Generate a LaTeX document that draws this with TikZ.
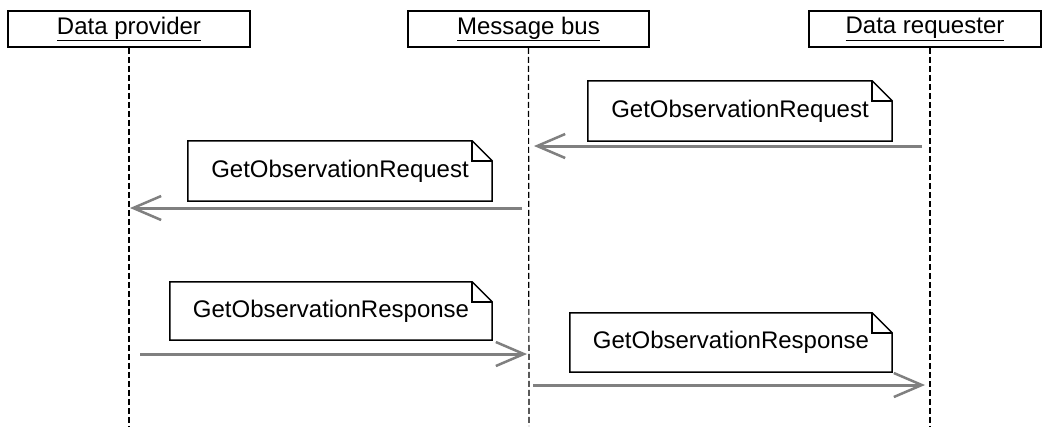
\documentclass[tikz,border=0pt]{standalone}
\usepackage{fontspec}
\setmainfont{Liberation Sans}
\usetikzlibrary{arrows.meta}
\begin{document}
\begin{tikzpicture}[x=1pt,y=-1pt,
  font=\fontsize{24}{28}\selectfont,
  header/.style={draw=black,line width=1.5pt,fill=white,minimum height=36pt,inner sep=0pt},
  lifeline/.style={draw=black,line width=1.2pt,dash pattern=on 6pt off 3pt},
  notebox/.style={inner sep=0pt,minimum height=60pt},
  noteline/.style={draw=black,line width=1.5pt,line join=miter},
  msg/.style={draw=black!50,line width=3pt,-{Straight Barb[length=28pt,width=24pt,line width=2.5pt]}}
]
\path[fill=white,use as bounding box] (0,0) rectangle (1043,426);

% headers
\node[header,minimum width=242pt] (prov) at (129,29) {\underline{Data provider}};
\node[header,minimum width=241pt] (bus) at (528.5,29) {\underline{Message bus}};
\node[header,minimum width=232pt] (req) at (925,29) {\underline{Data requester}};

% lifeline ends
\coordinate (provEnd) at (129,426);
\coordinate (busEnd) at (529,426);
\coordinate (reqEnd) at (930,426);
\draw[lifeline] (prov.south) -- (provEnd);
\draw[lifeline] (bus.south) -- (busEnd);
\draw[lifeline] ([xshift=5pt]req.south) -- (reqEnd);

% notes
\newcommand{\dogear}[1]{%
  \draw[noteline] (#1.north west) -- ([xshift=-20pt]#1.north east)
    -- ([yshift=-20pt]#1.north east) -- (#1.south east) -- (#1.south west) -- cycle;
  \draw[noteline] ([xshift=-20pt]#1.north east) -- ([xshift=-20pt,yshift=-20pt]#1.north east)
    -- ([yshift=-20pt]#1.north east);
}
\node[notebox,minimum width=304pt] (n1) at (740,111) {GetObservationRequest};
\dogear{n1}
\node[notebox,minimum width=304pt] (n2) at (340,171) {GetObservationRequest};
\dogear{n2}
\node[notebox,minimum width=322pt,minimum height=58pt] (n3) at (331,311) {GetObservationResponse};
\dogear{n3}
\node[notebox,minimum width=322pt,minimum height=59pt] (n4) at (731,342.5) {GetObservationResponse};
\dogear{n4}

% message endpoints
\coordinate (a1s) at (922,146); \coordinate (a1e) at (534,146);
\coordinate (a2s) at (522,208); \coordinate (a2e) at (130,208);
\coordinate (a3s) at (140,354); \coordinate (a3e) at (527,354);
\coordinate (a4s) at (533,385); \coordinate (a4e) at (925,385);
\draw[msg] (a1s) -- (a1e);
\draw[msg] (a2s) -- (a2e);
\draw[msg] (a3s) -- (a3e);
\draw[msg] (a4s) -- (a4e);
\end{tikzpicture}
\end{document}
